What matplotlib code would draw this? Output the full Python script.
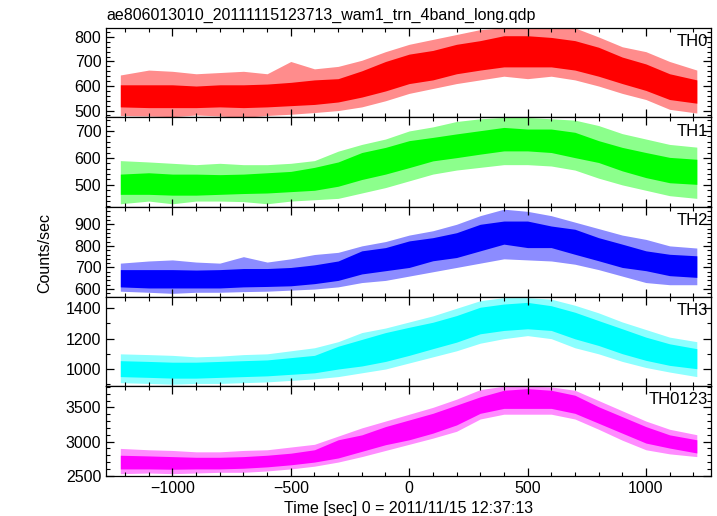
import matplotlib
matplotlib.use('Agg')
from matplotlib import pyplot as plt
from matplotlib.ticker import MultipleLocator

plt.rcParams['font.family'] = ['Liberation Sans', 'DejaVu Sans']

title = 'ae806013010_20111115123713_wam1_trn_4band_long.qdp'

# time grid (sec)
t = [-1220, -1100, -1000, -900, -800, -700, -600, -500, -400, -300, -200, -100,
     0, 100, 200, 300, 400, 500, 600, 700, 800, 900, 1000, 1100, 1215]

# TH0
th0_lo = [515, 512, 512, 512, 515, 512, 515, 520, 525, 535, 555, 580, 610,
          625, 650, 665, 678, 678, 678, 665, 640, 610, 582, 545, 530]
th0_hi = [605, 605, 605, 600, 605, 605, 608, 615, 625, 630, 662, 700, 730,
          745, 770, 785, 805, 805, 798, 785, 758, 718, 690, 650, 625]
th0_min = [480, 478, 475, 482, 478, 472, 480, 485, 492, 500, 515, 540, 570,
           590, 610, 625, 640, 630, 640, 625, 600, 570, 545, 505, 490]
th0_max = [645, 665, 660, 650, 655, 660, 650, 700, 670, 680, 705, 740, 770,
           790, 810, 830, 837, 835, 835, 837, 800, 760, 740, 700, 665]

# TH1
th1_lo = [465, 465, 462, 462, 465, 468, 470, 475, 480, 495, 520, 540, 564,
          589, 601, 614, 626, 626, 620, 601, 583, 552, 527, 508, 502]
th1_hi = [540, 545, 540, 540, 538, 540, 545, 550, 565, 585, 620, 639, 664,
          676, 689, 701, 713, 707, 707, 695, 664, 639, 620, 602, 595]
th1_min = [430, 440, 430, 440, 440, 438, 430, 440, 445, 450, 470, 490, 515,
           540, 555, 565, 575, 575, 570, 555, 525, 500, 480, 460, 450]
th1_max = [590, 585, 580, 575, 580, 575, 575, 580, 590, 625, 650, 670, 700,
           715, 735, 745, 750, 750, 745, 740, 720, 690, 670, 650, 640]

# TH2
th2_lo = [610, 605, 605, 605, 605, 610, 612, 615, 625, 640, 670, 685, 700,
          731, 746, 777, 808, 792, 792, 761, 731, 700, 685, 662, 654]
th2_hi = [690, 690, 690, 688, 690, 695, 695, 700, 712, 730, 777, 792, 823,
          838, 861, 900, 915, 915, 892, 877, 838, 808, 777, 761, 754]
th2_min = [590, 585, 580, 585, 585, 588, 590, 595, 600, 610, 630, 640, 660,
           680, 700, 720, 740, 735, 730, 715, 690, 660, 630, 620, 620]
th2_max = [720, 730, 735, 725, 720, 750, 725, 740, 760, 770, 800, 820, 850,
           870, 900, 940, 970, 960, 940, 910, 880, 850, 830, 800, 790]

# TH3
th3_lo = [950, 945, 940, 940, 945, 950, 955, 965, 975, 1000, 1020, 1050, 1090,
          1134, 1177, 1232, 1254, 1265, 1254, 1199, 1155, 1101, 1057, 1024, 1002]
th3_hi = [1055, 1050, 1045, 1045, 1050, 1055, 1060, 1075, 1090, 1150, 1195, 1240, 1275,
          1308, 1352, 1407, 1428, 1439, 1417, 1374, 1319, 1265, 1210, 1166, 1134]
th3_min = [910, 905, 900, 905, 905, 910, 915, 925, 935, 950, 975, 1000, 1040,
           1080, 1120, 1170, 1200, 1220, 1200, 1140, 1100, 1050, 1010, 980, 950]
th3_max = [1100, 1095, 1090, 1080, 1085, 1095, 1100, 1120, 1140, 1180, 1240, 1270, 1310,
           1350, 1400, 1450, 1470, 1470, 1460, 1420, 1370, 1310, 1260, 1210, 1180]

# TH0123
thall_lo = [2600, 2600, 2595, 2600, 2600, 2610, 2630, 2660, 2700, 2760, 2857, 2954, 3026,
            3123, 3243, 3413, 3485, 3485, 3485, 3413, 3268, 3123, 2978, 2905, 2833]
thall_hi = [2800, 2790, 2780, 2770, 2770, 2780, 2800, 2830, 2880, 3026, 3098, 3219, 3316,
            3413, 3533, 3654, 3750, 3774, 3750, 3678, 3509, 3364, 3219, 3098, 3026]
thall_min = [2530, 2540, 2530, 2540, 2550, 2550, 2570, 2600, 2640, 2700, 2780, 2870, 2960,
             3050, 3150, 3330, 3400, 3400, 3400, 3330, 3180, 3020, 2880, 2820, 2780]
thall_max = [2900, 2880, 2870, 2850, 2850, 2870, 2880, 2920, 2960, 3080, 3200, 3300, 3400,
             3500, 3620, 3760, 3810, 3810, 3800, 3750, 3600, 3450, 3300, 3180, 3100]

names = ['TH0', 'TH1', 'TH2', 'TH3', 'TH0123']
colors = ['#ff0000', '#00ff00', '#0000ff', '#00ffff', '#ff00ff']
bands = [(th0_lo, th0_hi, th0_min, th0_max),
         (th1_lo, th1_hi, th1_min, th1_max),
         (th2_lo, th2_hi, th2_min, th2_max),
         (th3_lo, th3_hi, th3_min, th3_max),
         (thall_lo, thall_hi, thall_min, thall_max)]
ylims = [(472, 837), (418, 750), (565, 980), (887, 1477), (2500, 3810)]
ymajor = [100, 100, 100, 200, 500]
yminor = [20, 20, 20, 100, 100]

fig, axes = plt.subplots(5, 1, figsize=(7.17, 5.16), dpi=100, sharex=True)
fig.subplots_adjust(left=0.148, right=0.992, top=0.946, bottom=0.078, hspace=0)

for i, ax in enumerate(axes):
    lo, hi, mn, mx = bands[i]
    ax.fill_between(t, mn, mx, color=colors[i], alpha=0.45, lw=0)
    ax.fill_between(t, lo, hi, color=colors[i], lw=0)
    ax.set_xlim(-1280, 1276)
    ax.set_ylim(*ylims[i])
    ax.xaxis.set_major_locator(MultipleLocator(500))
    ax.xaxis.set_minor_locator(MultipleLocator(100))
    ax.yaxis.set_major_locator(MultipleLocator(ymajor[i]))
    ax.yaxis.set_minor_locator(MultipleLocator(yminor[i]))
    ax.tick_params(which='both', direction='in', top=True, right=True, labelsize=11.5)
    ax.tick_params(which='major', length=6, width=0.9)
    ax.tick_params(which='minor', length=3, width=0.8)
    for s in ax.spines.values():
        s.set_linewidth(0.9)
    ax.text(0.995, 0.93, names[i], transform=ax.transAxes, ha='right', va='top', fontsize=12)

axes[0].set_title(title, loc='left', fontsize=11.5, pad=6)
fig.text(0.063, 0.51, 'Counts/sec', rotation=90, ha='center', va='center', fontsize=11.5)
axes[-1].set_xlabel('Time [sec] 0 = 2011/11/15 12:37:13', fontsize=11.5, labelpad=4)

plt.savefig('out.png', dpi=100)
